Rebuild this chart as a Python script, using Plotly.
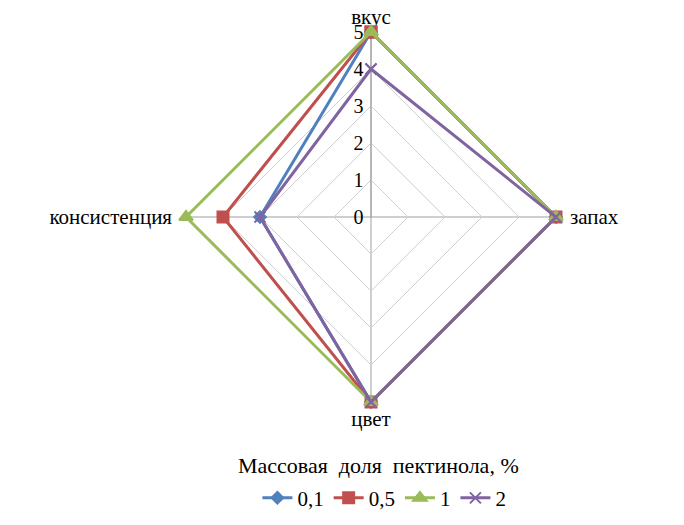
import plotly.graph_objects as go

# Organoleptic indicators (radar axes), clockwise from the top
categories = ["вкус", "запах", "цвет", "консистенция"]

# Scores per pectinol mass fraction
series_names = ["0,1", "0,5", "1", "2"]
values_01 = [5, 5, 5, 3]
values_05 = [5, 5, 5, 4]
values_1 = [5, 5, 5, 5]
values_2 = [4, 5, 5, 3]

radial_ticks = [0, 1, 2, 3, 4, 5]
r_max = 5.08  # a hair above 5 so lines on the outer ring are not clipped

colors = ["#4F81BD", "#C0504D", "#9BBB59", "#8064A2"]
symbols = ["diamond", "square", "triangle-up", "x-thin"]
sizes = [9, 11, 12, 11]
all_values = [values_01, values_05, values_1, values_2]

FONT = "Times New Roman, Liberation Serif, serif"
NB = "\u00a0"
LEGEND_TITLE = "Массовая  доля  пектинола, %"

fig = go.Figure()
for name, vals, col, sym, sz in zip(series_names, all_values, colors, symbols, sizes):
    # close the polygon by repeating the first point
    fig.add_trace(go.Scatterpolar(
        r=vals + vals[:1],
        theta=categories + categories[:1],
        mode="lines+markers",
        name=name,
        cliponaxis=False,
        line=dict(color=col, width=3),
        marker=dict(symbol=sym, size=sz, color=col,
                    line=dict(color=col, width=2)),
    ))

# category labels with a little padding away from the outer vertices
cat_text = [categories[0], NB * 2 + categories[1], categories[2], categories[3] + NB * 2]

W, H = 684, 525
cx, cy = 371, 217
rad = 185 * r_max / 5
fig.update_layout(
    width=W, height=H,
    margin=dict(l=0, r=0, t=0, b=0),
    paper_bgcolor="white",
    plot_bgcolor="white",
    font=dict(family=FONT, size=21, color="black"),
    polar=dict(
        domain=dict(x=[(cx - rad) / W, (cx + rad) / W],
                    y=[(H - cy - rad) / H, (H - cy + rad) / H]),
        bgcolor="white",
        gridshape="linear",
        angularaxis=dict(
            rotation=90, direction="clockwise",
            categoryorder="array", categoryarray=categories,
            tickmode="array", tickvals=categories, ticktext=cat_text,
            showline=False,
            gridcolor="#9F9F9F", gridwidth=1, layer="below traces",
            ticks="", tickfont=dict(family=FONT, size=21, color="black"),
        ),
        radialaxis=dict(
            range=[0, r_max], tickvals=radial_ticks, angle=90, tickangle=90,
            side="counterclockwise", layer="below traces",
            showline=True, linecolor="#9F9F9F", linewidth=1,
            gridcolor="#D0D0D0", gridwidth=1,
            ticks="", tickfont=dict(family=FONT, size=20, color="black"),
        ),
    ),
    legend=dict(
        orientation="h",
        x=0.562, xanchor="center", y=0.012, yanchor="bottom",
        font=dict(family=FONT, size=21),
        itemwidth=30, tracegroupgap=0,
    ),
    annotations=[dict(
        text=LEGEND_TITLE, x=0.553, y=(H - 465) / H,
        xref="paper", yref="paper", xanchor="center", yanchor="middle",
        showarrow=False, font=dict(family=FONT, size=22),
    )],
)

fig.write_html("out.html")
